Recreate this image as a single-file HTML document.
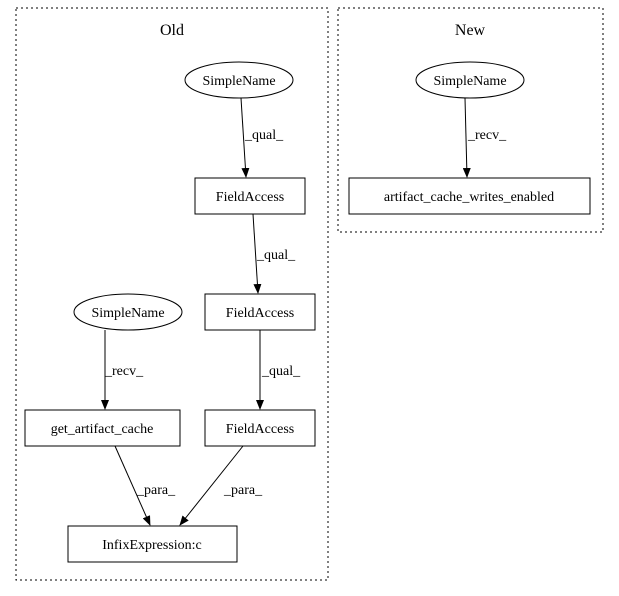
<!DOCTYPE html>
<html><head><style>body{margin:0;background:#fff}svg{display:block}</style></head><body>
<svg width="619" height="596" viewBox="0 0 619 596" xmlns="http://www.w3.org/2000/svg" font-family="'Liberation Serif', serif" font-size="14">
<defs><marker id="a" markerWidth="10" markerHeight="8" refX="9" refY="4" orient="auto" markerUnits="userSpaceOnUse"><path d="M0,0 L10,4 L0,8 z" fill="#000"/></marker></defs>
<g fill="none" stroke="#000" stroke-dasharray="2,3">
<rect x="16" y="8" width="312" height="572"/>
<rect x="338" y="8" width="265" height="224"/>
</g>
<g font-size="16" text-anchor="middle"><text x="172" y="35">Old</text><text x="470" y="35">New</text></g>
<g fill="none" stroke="#000">
<ellipse cx="239" cy="80" rx="54" ry="18"/>
<rect x="195" y="178" width="110" height="36"/>
<rect x="205" y="294" width="110" height="36"/>
<rect x="205" y="410" width="110" height="36"/>
<ellipse cx="128" cy="312" rx="54" ry="18"/>
<rect x="25" y="410" width="155" height="36"/>
<rect x="68" y="526" width="169" height="36"/>
<ellipse cx="470" cy="80" rx="54" ry="18"/>
<rect x="349" y="178" width="241" height="36"/>
</g>
<g stroke="#000" marker-end="url(#a)">
<line x1="241" y1="98" x2="246" y2="177"/>
<line x1="253" y1="214" x2="258" y2="293"/>
<line x1="260" y1="330" x2="260" y2="409"/>
<line x1="105" y1="330" x2="105" y2="409"/>
<line x1="115" y1="446" x2="150" y2="525"/>
<line x1="243" y1="446" x2="180" y2="525"/>
<line x1="465" y1="98" x2="467" y2="177"/>
</g>
<g text-anchor="middle">
<text x="239" y="85">SimpleName</text>
<text x="250" y="201">FieldAccess</text>
<text x="260" y="317">FieldAccess</text>
<text x="260" y="433">FieldAccess</text>
<text x="128" y="317">SimpleName</text>
<text x="102" y="433">get_artifact_cache</text>
<text x="152" y="549">InfixExpression:c</text>
<text x="470" y="85">SimpleName</text>
<text x="469" y="201">artifact_cache_writes_enabled</text>
</g>
<g>
<text x="245" y="139">_qual_</text>
<text x="257" y="259">_qual_</text>
<text x="262" y="375">_qual_</text>
<text x="105" y="375">_recv_</text>
<text x="137" y="494">_para_</text>
<text x="224" y="494">_para_</text>
<text x="468" y="139">_recv_</text>
</g>
</svg>
</body></html>
